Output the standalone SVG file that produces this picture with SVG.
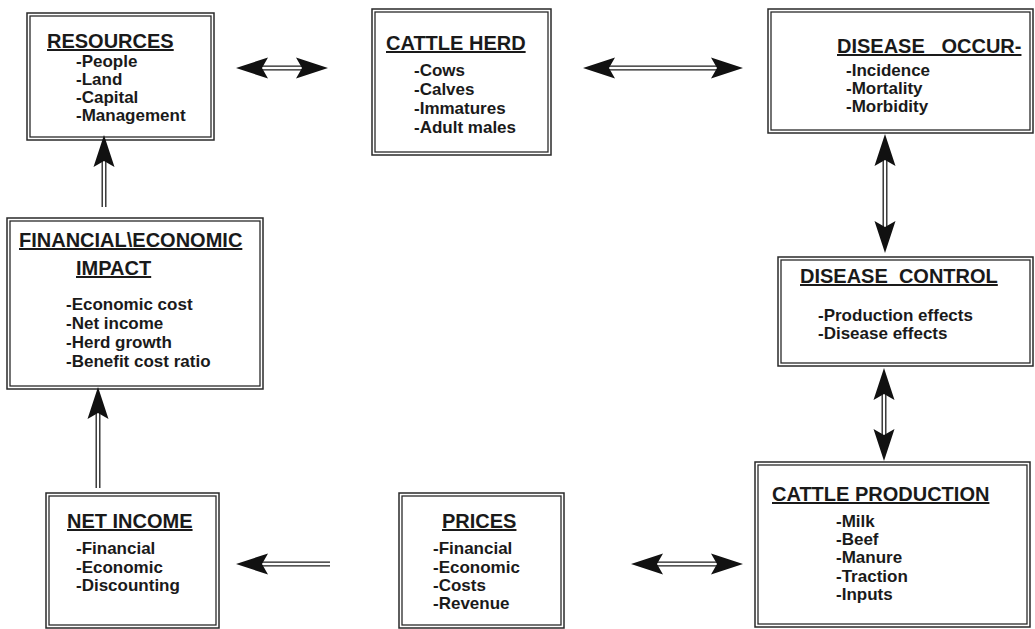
<svg xmlns="http://www.w3.org/2000/svg" xmlns:xlink="http://www.w3.org/1999/xlink" width="1035" height="629" viewBox="0 0 1035 629">
<style>
.bo{fill:#fff;stroke:#2a2a2a;stroke-width:1.5}
.bi{fill:none;stroke:#2a2a2a;stroke-width:1.3}
.t{font-family:"Liberation Sans",Arial,sans-serif;font-weight:bold;font-size:20px;fill:#1a1a1a;text-decoration:underline}
.s{font-family:"Liberation Sans",Arial,sans-serif;font-weight:bold;font-size:17px;fill:#1a1a1a}
.sh{stroke:#1e1e1e;stroke-width:1.3;fill:none}
.hd{fill:#111}
</style>
<defs>
<path id="hd" class="hd" d="M0,0 L32,-10.5 L26,0 L32,10.5 Z"/>
</defs>
<rect width="1035" height="629" fill="#fff"/>

<g id="resources">
<rect class="bo" x="27" y="13" width="187" height="127"/>
<rect class="bi" x="30" y="16" width="181" height="121"/>
<text class="t" x="47" y="48">RESOURCES</text>
<text class="s" x="76" y="67">-People</text>
<text class="s" x="76" y="85">-Land</text>
<text class="s" x="76" y="103">-Capital</text>
<text class="s" x="76" y="121">-Management</text>
</g>

<g id="cattle-herd">
<rect class="bo" x="372" y="9" width="179" height="146"/>
<rect class="bi" x="375" y="12" width="173" height="140"/>
<text class="t" x="386" y="50">CATTLE HERD</text>
<text class="s" x="414" y="76">-Cows</text>
<text class="s" x="414" y="95">-Calves</text>
<text class="s" x="414" y="114">-Immatures</text>
<text class="s" x="414" y="133">-Adult males</text>
</g>

<g id="disease-occurrence">
<rect class="bo" x="768" y="9" width="265" height="124"/>
<rect class="bi" x="771" y="12" width="259" height="118"/>
<text class="t" x="837" y="53" xml:space="preserve">DISEASE   OCCUR-</text>
<text class="s" x="846" y="76">-Incidence</text>
<text class="s" x="846" y="94">-Mortality</text>
<text class="s" x="846" y="112">-Morbidity</text>
</g>

<g id="disease-control">
<rect class="bo" x="778" y="257" width="255" height="109"/>
<rect class="bi" x="781" y="260" width="249" height="103"/>
<text class="t" x="800" y="283" xml:space="preserve">DISEASE  CONTROL</text>
<text class="s" x="818" y="321">-Production effects</text>
<text class="s" x="818" y="339">-Disease effects</text>
</g>

<g id="cattle-production">
<rect class="bo" x="755" y="462" width="275" height="165"/>
<rect class="bi" x="758" y="465" width="269" height="159"/>
<text class="t" x="772" y="501">CATTLE PRODUCTION</text>
<text class="s" x="836" y="527">-Milk</text>
<text class="s" x="836" y="545">-Beef</text>
<text class="s" x="836" y="563">-Manure</text>
<text class="s" x="836" y="582">-Traction</text>
<text class="s" x="836" y="600">-Inputs</text>
</g>

<g id="prices">
<rect class="bo" x="399" y="493" width="165" height="135"/>
<rect class="bi" x="402" y="496" width="159" height="129"/>
<text class="t" x="442" y="528">PRICES</text>
<text class="s" x="433" y="554">-Financial</text>
<text class="s" x="433" y="573">-Economic</text>
<text class="s" x="433" y="591">-Costs</text>
<text class="s" x="433" y="609">-Revenue</text>
</g>

<g id="net-income">
<rect class="bo" x="46" y="493" width="173" height="135"/>
<rect class="bi" x="49" y="496" width="167" height="129"/>
<text class="t" x="67" y="528">NET INCOME</text>
<text class="s" x="76" y="554">-Financial</text>
<text class="s" x="76" y="573">-Economic</text>
<text class="s" x="76" y="591">-Discounting</text>
</g>

<g id="financial-economic-impact">
<rect class="bo" x="7" y="218" width="256" height="171"/>
<rect class="bi" x="10" y="221" width="250" height="165"/>
<text class="t" x="19" y="247">FINANCIAL\ECONOMIC</text>
<text class="t" x="76" y="275">IMPACT</text>
<text class="s" x="66" y="310">-Economic cost</text>
<text class="s" x="66" y="329">-Net income</text>
<text class="s" x="66" y="348">-Herd growth</text>
<text class="s" x="66" y="367">-Benefit cost ratio</text>
</g>

<g id="connectors">
<!-- resources <-> cattle herd -->
<path class="sh" d="M262,66.2 H302 M262,69.8 H302"/>
<use xlink:href="#hd" transform="translate(236,68)"/>
<use xlink:href="#hd" transform="translate(328,68) rotate(180)"/>
<!-- cattle herd <-> disease occurrence -->
<path class="sh" d="M609,66.2 H717 M609,69.8 H717"/>
<use xlink:href="#hd" transform="translate(583,68)"/>
<use xlink:href="#hd" transform="translate(743,68) rotate(180)"/>
<!-- disease occurrence <-> disease control -->
<path class="sh" d="M883.2,160 V227 M886.8,160 V227"/>
<use xlink:href="#hd" transform="translate(885,134) rotate(90)"/>
<use xlink:href="#hd" transform="translate(885,253) rotate(-90)"/>
<!-- disease control <-> cattle production -->
<path class="sh" d="M882.2,394 V435 M885.8,394 V435"/>
<use xlink:href="#hd" transform="translate(884,368) rotate(90)"/>
<use xlink:href="#hd" transform="translate(884,461) rotate(-90)"/>
<!-- prices <-> cattle production -->
<path class="sh" d="M657,562.2 H717 M657,565.8 H717"/>
<use xlink:href="#hd" transform="translate(631,564)"/>
<use xlink:href="#hd" transform="translate(743,564) rotate(180)"/>
<!-- prices -> net income -->
<path class="sh" d="M262,562.2 H330 M262,565.8 H330"/>
<use xlink:href="#hd" transform="translate(236,564)"/>
<!-- net income -> financial impact -->
<path class="sh" d="M96.2,413 V488 M99.8,413 V488"/>
<use xlink:href="#hd" transform="translate(98,387) rotate(90)"/>
<!-- financial impact -> resources -->
<path class="sh" d="M102.2,161 V207 M105.8,161 V207"/>
<use xlink:href="#hd" transform="translate(104,135) rotate(90)"/>
</g>
</svg>
